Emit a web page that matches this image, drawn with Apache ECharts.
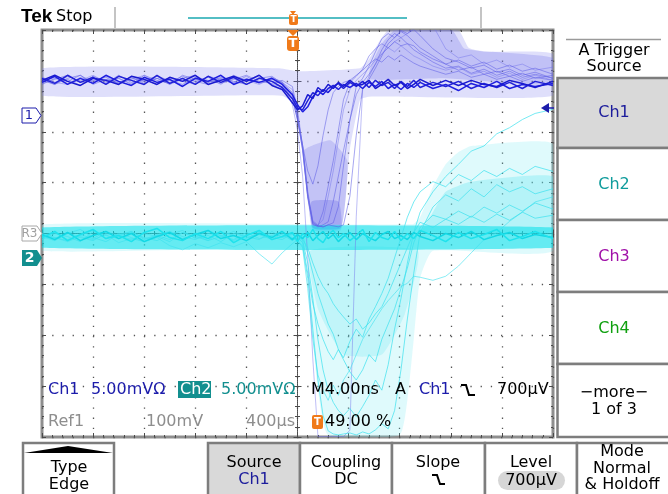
<!DOCTYPE html>
<html lang="en">
<head>
<meta charset="UTF-8">
<title>Tek Stop</title>
<script src="https://cdn.jsdelivr.net/npm/echarts@6/dist/echarts.min.js"></script>
<style>html,body{margin:0;padding:0;background:#fff;}</style>
</head>
<body>
<div id="main" style="width:668px;height:494px;"></div>
<script>
// sample times in ns, trigger at 0 (49 % of record)
const timeNs = [-19.6, -18.6, -17.6, -16.6, -15.6, -14.6, -13.6, -12.6, -11.6, -10.6, -9.6, -8.6, -7.6, -6.6, -5.6, -4.6, -3.6, -2.6, -1.6, -0.8,
  0, 0.4, 0.8, 1.2, 1.6, 2, 2.4, 2.8, 3.2, 3.6, 4,
  4.5, 5, 5.5, 6, 6.5, 7, 7.5, 8, 8.5, 9, 9.5, 10,
  11, 12, 13, 14, 15, 16, 17, 18, 19, 20.4];

// Ch1 traces, mV (5 mV/div)
const ch1Dark1 = [3.2, 3.8, 3.0, 3.6, 3.1, 3.9, 3.3, 2.9, 3.7, 3.2, 3.5, 2.8, 3.6, 3.3, 3.9, 3.0, 3.5, 3.2, 3.6, 3.0,
  2.0, 1.0, 0.3, 0.8, 1.8, 2.4, 2.0, 2.6, 2.9, 2.5, 3.0,
  2.7, 3.1, 2.6, 3.2, 2.8, 3.3, 2.6, 3.0, 2.5, 3.1, 2.7, 3.2,
  2.6, 3.0, 2.4, 3.1, 2.7, 3.3, 2.6, 3.0, 2.8, 3.1];
const ch1Dark2 = [3.6, 3.1, 3.9, 3.2, 3.7, 3.0, 3.8, 3.4, 3.0, 3.9, 3.1, 3.6, 3.0, 3.8, 3.2, 3.7, 3.0, 3.6, 3.3, 2.7,
  1.6, 0.7, 0.5, 1.4, 2.2, 1.9, 2.5, 2.2, 2.8, 3.1, 2.6,
  3.2, 2.8, 3.3, 2.7, 3.4, 2.9, 3.2, 2.6, 3.3, 2.8, 3.4, 2.7,
  3.2, 2.8, 3.3, 2.6, 3.1, 2.7, 3.2, 2.6, 3.3, 2.9];
const ch1Dark3 = [3.4, 3.9, 3.3, 2.9, 3.6, 3.4, 3.0, 3.8, 3.5, 3.0, 3.7, 3.3, 3.9, 3.0, 3.4, 3.8, 3.3, 3.9, 2.9, 2.5,
  1.2, 0.5, 0.9, 2.0, 1.6, 2.7, 2.3, 3.0, 2.6, 3.2, 2.8,
  3.4, 2.9, 3.0, 3.4, 2.6, 3.0, 3.5, 2.9, 3.2, 2.6, 3.0, 3.5,
  2.9, 3.4, 2.9, 3.4, 3.0, 2.8, 3.4, 3.1, 2.7, 3.3];
const ch1Light1 = [3.5, 3.0, 3.8, 3.3, 3.6, 3.1, 3.9, 3.2, 3.5, 3.0, 3.7, 3.4, 3.1, 3.8, 3.2, 3.6, 3.0, 3.7, 3.3, 3.1,
  1.5, -0.5, -3.5, -8.0, -10.8, -10.9, -9.5, -7.0, -4.5, -1.5, 1.5,
  3.2, 3.8, 4.5, 5.8, 6.5, 7.0, 6.6, 7.2, 6.8, 7.0, 6.4, 6.0,
  5.2, 4.6, 4.8, 4.1, 4.5, 3.9, 4.3, 3.7, 4.0, 3.6];
const ch1Light2 = [3.0, 3.6, 3.3, 3.9, 3.0, 3.5, 3.2, 3.7, 3.1, 3.6, 3.2, 3.8, 3.3, 3.0, 3.6, 3.2, 3.8, 3.1, 3.5, 3.2,
  2.2, 0.0, -3.0, -7.5, -10.5, -10.9, -11.0, -10.8, -10.6, -9.0, -5.0,
  -0.5, 2.8, 3.6, 4.8, 6.2, 7.5, 8.0, 7.6, 8.2, 7.8, 7.2, 6.6,
  5.8, 5.0, 4.4, 4.7, 4.0, 4.3, 3.8, 4.1, 3.6, 3.9];
const ch1Light3 = [3.7, 3.2, 3.5, 2.9, 3.8, 3.3, 3.6, 3.0, 3.9, 3.4, 3.1, 3.6, 3.9, 3.2, 3.5, 3.1, 3.4, 3.9, 3.0, 2.8,
  1.8, -0.5, -3.0, -5.5, -6.8, -5.0, -2.0, 0.5, 2.2, 2.8, 3.2,
  3.4, 3.9, 4.4, 5.0, 5.5, 5.2, 5.8, 5.4, 5.9, 5.5, 5.1, 4.8,
  4.4, 4.0, 4.3, 3.7, 4.0, 3.5, 3.8, 3.3, 3.7, 3.4];
const ch1Light4 = [3.3, 3.7, 3.1, 3.4, 3.9, 3.2, 3.6, 3.1, 3.4, 3.8, 3.0, 3.5, 3.3, 3.7, 3.0, 3.9, 3.4, 3.0, 3.6, 3.3,
  1.0, -1.5, -6.0, -14.0, -24.0, -31.6, -31.6, -31.6, -31.6, -31.6, -31.6,
  -31.0, -10.0, 2.5, 3.8, 5.0, 6.0, 6.6, 6.2, 6.8, 6.3, 5.8, 5.5,
  4.8, 4.4, 4.7, 4.0, 4.3, 3.7, 4.1, 3.5, 3.9, 3.4];
const ch1Light5 = [3.1, 3.5, 3.9, 3.2, 3.4, 3.7, 3.0, 3.6, 3.3, 3.8, 3.4, 3.0, 3.7, 3.4, 3.1, 3.5, 3.9, 3.3, 3.1, 3.4,
  2.8, 0.5, -3.0, -7.8, -10.6, -10.9, -11.0, -10.8, -10.9, -11.0, -10.8,
  -8.0, -2.0, 2.6, 3.5, 4.6, 5.8, 7.0, 7.6, 8.3, 8.0, 8.4, 7.8,
  6.5, 5.6, 5.2, 4.6, 4.9, 4.2, 4.5, 3.9, 4.2, 3.6];
const ch1Light6 = [3.6, 3.2, 3.0, 3.7, 3.3, 3.8, 3.1, 3.5, 3.9, 3.2, 3.6, 3.3, 3.0, 3.8, 3.5, 3.1, 3.6, 3.2, 3.7, 3.2,
  2.5, 0.0, -3.2, -8.0, -10.4, -10.8, -10.3, -8.0, -5.5, -2.5, 0.5,
  2.5, 3.4, 4.0, 4.6, 5.4, 6.0, 6.6, 7.2, 7.6, 8.0, 8.6, 9.0,
  8.8, 6.5, 5.6, 5.9, 5.0, 5.4, 4.7, 5.0, 4.4, 4.7];
const ch1Light7 = [3.4, 3.0, 3.6, 3.9, 3.2, 3.5, 3.1, 3.8, 3.3, 3.6, 3.0, 3.9, 3.5, 3.2, 3.7, 3.3, 3.0, 3.6, 3.8, 3.1,
  2.0, -0.3, -3.4, -8.2, -10.7, -11.0, -10.8, -10.5, -8.5, -6.0, -3.5,
  -0.5, 2.0, 3.2, 4.0, 5.0, 6.4, 7.4, 8.0, 7.6, 7.0, 6.8, 6.2,
  5.5, 5.0, 5.4, 4.8, 5.2, 4.5, 4.9, 4.3, 4.6, 4.0];

// Ch2 traces, mV (5 mV/div)
const ch2Base1 = [2.3, 1.8, 2.5, 1.7, 2.2, 2.6, 1.9, 2.4, 1.6, 2.1, 2.5, 1.8, 2.3, 2.7, 1.9, 2.2, 1.7, 2.4, 2.0, 2.6,
  1.8, 2.3, 1.9, 2.5, 1.7, 2.2, 2.6, 1.9, 2.3, 1.6, 2.1,
  2.5, 1.8, 2.4, 2.0, 1.7, 2.3, 2.6, 1.9, 2.2, 1.8, 2.5, 2.1,
  1.7, 2.4, 2.0, 2.6, 1.8, 2.2, 2.5, 1.9, 2.3, 2.0];
const ch2Base2 = [2.0, 2.6, 1.7, 2.3, 2.8, 1.9, 2.2, 1.6, 2.5, 2.9, 2.0, 1.7, 2.4, 1.9, 2.6, 1.5, 2.2, 2.7, 1.8, 2.1,
  2.5, 1.6, 2.4, 2.0, 2.8, 1.9, 1.5, 2.3, 2.7, 2.0, 2.4,
  1.7, 2.2, 2.8, 1.6, 2.5, 2.0, 1.8, 2.6, 1.7, 2.4, 1.9, 2.7,
  2.2, 1.6, 2.5, 1.9, 2.3, 2.8, 1.7, 2.1, 2.6, 1.9];
const ch2Dip1 = [2.2, 1.9, 2.5, 2.0, 1.7, 2.4, 2.1, 2.6, 1.8, 2.2, 2.5, 1.9, 2.3, 1.7, 2.1, 2.6, 2.0, 2.3, 1.8, 2.4,
  2.0, 1.6, 1.2, -2.0, -7.0, -12.0, -15.5, -17.0, -17.3, -17.4, -17.3,
  -17.2, -17.4, -17.1, -17.3, -16.9, -16.3, -16.8, -15.0, -11.0, -6.0, -1.5, 2.5,
  5.0, 6.2, 5.6, 6.8, 6.0, 7.2, 6.5, 7.0, 6.3, 6.8];
const ch2Dip2 = [1.8, 2.4, 2.1, 1.6, 2.6, 2.2, 1.9, 2.5, 2.0, 1.7, 2.3, 2.7, 1.9, 2.2, 1.6, 2.4, 2.1, 1.8, 2.6, 2.0,
  2.3, 1.9, 2.2, 0.5, -1.5, -3.5, -5.0, -6.5, -7.5, -9.0, -10.0,
  -11.2, -12.0, -11.0, -9.5, -10.2, -8.0, -6.5, -5.0, -3.0, -1.0, 1.5, 3.0,
  4.2, 3.8, 4.6, 4.0, 5.0, 4.4, 5.2, 4.6, 5.4, 4.8];
const ch2Dip3 = [2.4, 2.0, 1.7, 2.3, 1.9, 2.6, 2.2, 1.8, 2.4, 2.1, 1.6, 2.5, 2.0, 2.7, 2.2, 1.8, 2.5, 1.9, 2.2, 2.6,
  1.9, 2.2, 1.8, 1.0, -0.5, -1.8, -2.8, -3.5, -4.5, -5.2, -5.8,
  -6.5, -6.0, -7.0, -6.4, -5.5, -4.8, -3.5, -2.0, -0.5, 1.0, 2.5, 3.5,
  3.0, 3.8, 3.3, 4.1, 3.5, 4.3, 3.7, 4.5, 3.9, 4.2];
const ch2Dip4 = [2.0, 2.5, 1.8, 2.2, 2.7, 1.9, 2.4, 2.0, 1.6, 2.3, 2.6, 2.1, 1.8, 2.4, 2.2, 1.7, 2.3, 2.6, 2.0, 1.8,
  2.4, 2.1, 1.7, -0.5, -4.0, -8.0, -11.0, -13.0, -14.2, -15.0, -15.5,
  -14.8, -15.6, -14.6, -13.5, -12.0, -13.0, -10.5, -7.0, -4.0, -0.5, 2.5, 4.5,
  6.5, 8.0, 9.2, 10.5, 11.0, 12.2, 12.8, 13.6, 14.2, 14.6];
const ch2Dip5 = [2.1, 1.7, 2.4, 2.8, 2.0, 1.6, 2.3, 2.6, 1.9, 2.2, 1.8, 2.5, 2.1, 1.7, 2.6, 2.2, 1.9, 2.5, 2.1, 2.3,
  1.7, 2.0, 1.5, -1.5, -4.5, -6.5, -8.0, -9.2, -10.0, -9.0, -9.8,
  -8.2, -7.0, -7.8, -6.0, -4.8, -3.5, -2.0, 0.0, 2.0, 4.0, 5.5, 6.5,
  7.5, 7.0, 8.2, 7.6, 8.6, 8.0, 8.8, 8.2, 9.0, 8.5];
const ch2Dip6 = [2.2, 2.0, 1.6, 2.1, 1.8, 2.3, 1.5, 1.9, 1.6, 2.0, 1.2, 0.8, 1.4, 1.0, 1.5, 1.1, 1.6, 0.4, -0.6, 0.5,
  1.4, 1.8, 1.0, -3.0, -8.0, -11.5, -13.0, -14.0, -12.5, -13.5, -12.0,
  -11.0, -9.5, -8.0, -7.0, -6.0, -5.0, -4.2, -3.5, -2.8, -2.5, -1.8, -1.9,
  -2.2, -1.8, -0.8, 0.5, 1.8, 2.5, 3.6, 4.5, 5.5, 6.0];

// persistence clouds, [ns, mV] outlines
const ch1Cloud = [[-19.6, 4.6], [-1.0, 4.6], [0.4, 4.3], [5.3, 4.6], [6.0, 5.5], [6.7, 7.0], [7.5, 8.3], [13, 8.3], [13.8, 6.6], [15, 6.2], [20.4, 6.0],
  [20.4, 1.9], [6, 1.8], [5.3, 1.5], [4.5, -3.4], [3.8, -11.3], [1.6, -11.3], [1.2, -8.0], [0.8, -2.5], [0.3, 0.8], [-0.8, 1.9], [-19.6, 1.9]];
const ch1DipCore = [[0.9, -3.5], [3.0, -2.5], [4.3, -4.5], [3.8, -11.1], [1.6, -11.1], [1.2, -8.0]];
const ch1DipBottom = [[1.5, -8.5], [3.6, -8.5], [3.8, -11.1], [1.6, -11.1]];
const ch1OverCore = [[6.2, 5.0], [7.0, 7.0], [8.0, 8.3], [12.5, 8.3], [13.5, 6.5], [20.4, 5.6], [20.4, 3.0], [12, 3.6], [6.0, 3.5]];
const ch2Cloud = [[-19.6, 3.3], [9.4, 3.3], [10, 4.0], [11, 7.0], [12, 9.2], [13, 10.4], [14, 11.0], [20.4, 11.2],
  [20.4, 0.7], [11, 0.7], [10, -2.0], [9.5, -8.0], [9.0, -14.0], [8.4, -17.4], [2.8, -17.4], [2.0, -13.0], [1.3, -4.0], [1.0, 0.7], [-19.6, 0.7]];
const ch2DipCore = [[1.4, 0.7], [9.8, 0.7], [8.8, -5.5], [7.0, -9.5], [4.0, -9.5], [2.0, -5.0]];
const ch2OverCore = [[10.2, 2.6], [11, 4.5], [12, 6.5], [14, 7.5], [20.4, 8.0], [20.4, 2.6]];
const ch2Band = [[-19.6, 3.0], [20.4, 3.0], [20.4, 1.0], [-19.6, 1.0]];

const FONT = '"DejaVu Sans", sans-serif';
const myChart = echarts.init(document.getElementById('main'));

function trace(vals, yIdx, color, width) {
  return {
    type: 'line', xAxisIndex: 4, yAxisIndex: yIdx, silent: true, clip: true,
    showSymbol: false, symbol: 'none',
    data: timeNs.map((t, i) => [t, vals[i]]),
    lineStyle: { color: color, width: width }
  };
}

function cloud(outline, yIdx, color) {
  return {
    type: 'custom', xAxisIndex: 4, yAxisIndex: yIdx, silent: true, clip: true,
    data: outline,
    renderItem: function (params, api) {
      if (params.dataIndex !== 0) return null;
      return {
        type: 'polygon',
        shape: { points: outline.map(p => api.coord(p)), smooth: 0.15 },
        style: { fill: color }
      };
    }
  };
}

function label(x, y, text, fill, size, align, weight, family) {
  return {
    type: 'text', x: x, y: y, z: 100,
    style: {
      text: text, fill: fill,
      font: (weight || 'normal') + ' ' + size + 'px ' + (family || FONT),
      align: align || 'left', textAlign: align || 'left',
      verticalAlign: 'middle', textVerticalAlign: 'middle'
    }
  };
}
function box(x, y, w, h, fill, stroke, lw, r) {
  return { type: 'rect', z: 90, shape: { x: x, y: y, width: w, height: h, r: r || 0 }, style: { fill: fill, stroke: stroke || null, lineWidth: lw || 0 } };
}
function poly(points, fill, stroke, lw) {
  return { type: 'polygon', z: 95, shape: { points: points }, style: { fill: fill, stroke: stroke || null, lineWidth: lw || 0 } };
}
function pline(points, stroke, lw) {
  return { type: 'polyline', z: 95, shape: { points: points }, style: { stroke: stroke, lineWidth: lw, fill: null } };
}

const GRID = '#4a4a4a';
const frameX = (pos) => ({
  type: 'value', min: -5, max: 5, interval: 1, position: pos,
  axisLabel: { show: false }, splitLine: { show: false },
  axisLine: { show: false, onZero: false },
  axisTick: { inside: true, length: 4, lineStyle: { color: GRID } },
  minorTick: { show: true, splitNumber: 5, length: 2, lineStyle: { color: GRID } }
});
const frameY = (pos) => ({
  type: 'value', min: -4, max: 4, interval: 1, position: pos,
  axisLabel: { show: false }, splitLine: { show: false },
  axisLine: { show: false, onZero: false },
  axisTick: { inside: true, length: 4, lineStyle: { color: GRID } },
  minorTick: { show: true, splitNumber: 5, length: 2, lineStyle: { color: GRID } }
});
const centreX = (inside, split) => ({
  type: 'value', min: -5, max: 5, interval: 1, position: 'bottom',
  axisLabel: { show: false },
  axisLine: { show: true, onZero: true, onZeroAxisIndex: 0, lineStyle: { color: GRID, width: 1, type: [1, 1] } },
  axisTick: { inside: inside, length: 4, lineStyle: { color: GRID } },
  minorTick: { show: true, splitNumber: 5, length: 2.5, lineStyle: { color: GRID } },
  splitLine: { show: split, lineStyle: { color: '#555', width: 1.3, type: [1.3, 8.9] } }
});
const centreY = (inside, split) => ({
  type: 'value', min: -4, max: 4, interval: 1, position: 'left',
  axisLabel: { show: false },
  axisLine: { show: true, onZero: true, onZeroAxisIndex: 0, lineStyle: { color: GRID, width: 1, type: [1, 1] } },
  axisTick: { inside: inside, length: 4, lineStyle: { color: GRID } },
  minorTick: { show: true, splitNumber: 5, length: 2.5, lineStyle: { color: GRID } },
  splitLine: { show: split, lineStyle: { color: '#555', width: 1.3, type: [1.3, 8.9] } }
});

const CH1 = '#1c1cab';
const CH2 = '#128f8f';
const GREY = '#8e8e8e';
const ORANGE = '#f07a1a';
const BTN = '#7d7d7d';

const ui = [
  // status bar
  label(21, 17, 'Tek', '#000', 19, 'left', 'bold', '"Liberation Sans", sans-serif'),
  label(56, 17, 'Stop', '#000', 16),
  { type: 'line', z: 90, shape: { x1: 115, y1: 7, x2: 115, y2: 28 }, style: { stroke: '#b0b0b0', lineWidth: 1.5 } },
  { type: 'line', z: 90, shape: { x1: 481, y1: 7, x2: 481, y2: 28 }, style: { stroke: '#b0b0b0', lineWidth: 1.5 } },
  { type: 'line', z: 90, shape: { x1: 188, y1: 18, x2: 407, y2: 18 }, style: { stroke: '#1aa8b0', lineWidth: 1.5 } },
  poly([[290, 11], [296, 11], [293, 15]], ORANGE),
  box(289, 14, 9, 11, ORANGE, null, 0, 2),
  label(293.5, 20, 'T', '#fff', 9, 'center', 'bold'),
  poly([[287, 30], [299, 30], [293, 36]], ORANGE),
  box(287, 36, 12, 15, ORANGE, null, 0, 3),
  label(293, 44, 'T', '#fff', 13, 'center', 'bold'),
  // channel ground markers
  poly([[22, 108], [36, 108], [41, 115.5], [36, 123], [22, 123]], '#fff', CH1, 1),
  label(29, 116, '1', CH1, 13, 'center'),
  poly([[22, 226], [37, 226], [42, 233.5], [37, 241], [22, 241]], '#fff', '#a8a8a8', 1),
  label(29.5, 234, 'R3', '#a0a0a0', 12, 'center'),
  poly([[22, 250], [37, 250], [42, 258], [37, 266], [22, 266]], CH2),
  label(29.5, 258.5, '2', '#fff', 14, 'center', 'bold'),
  // trigger level arrow
  poly([[541, 108], [549, 103], [549, 113]], CH1),
  { type: 'line', z: 95, shape: { x1: 548, y1: 108, x2: 554, y2: 108 }, style: { stroke: CH1, lineWidth: 1.5 } },
  // readout, row 1
  label(48, 390, 'Ch1', CH1, 16),
  label(91, 390, '5.00mVΩ', CH1, 16),
  box(178, 381, 33, 17, CH2),
  label(180, 390, 'Ch2', '#fff', 16),
  label(221, 390, '5.00mVΩ', CH2, 16),
  label(311, 390, 'M4.00ns', '#000', 16),
  label(395, 390, 'A', '#000', 16),
  label(419, 390, 'Ch1', CH1, 16),
  pline([[461, 385], [466, 385], [469, 395], [475, 395]], '#000', 2),
  label(497, 390, '700µV', '#000', 16),
  // readout, row 2
  label(48, 422, 'Ref1', GREY, 16),
  label(146, 422, '100mV', GREY, 16),
  label(246, 422, '400µs', GREY, 16),
  box(312, 415, 11, 14, ORANGE, null, 0, 2),
  label(317.5, 422.5, 'T', '#fff', 10, 'center', 'bold'),
  label(325, 422, '49.00 %', '#000', 16),
  // side menu
  { type: 'line', z: 90, shape: { x1: 566, y1: 39.5, x2: 661, y2: 39.5 }, style: { stroke: '#9a9a9a', lineWidth: 1.5 } },
  label(614, 51, 'A Trigger', '#000', 16, 'center'),
  label(614, 67, 'Source', '#000', 16, 'center'),
  box(557.5, 78, 115, 70, '#d9d9d9', BTN, 2.5),
  box(557.5, 148, 115, 72, '#fff', BTN, 2.5),
  box(557.5, 220, 115, 72, '#fff', BTN, 2.5),
  box(557.5, 292, 115, 72, '#fff', BTN, 2.5),
  box(557.5, 364, 115, 73, '#fff', BTN, 2.5),
  label(614, 113, 'Ch1', '#1c1c9c', 16, 'center'),
  label(614, 185, 'Ch2', '#109c9c', 16, 'center'),
  label(614, 257, 'Ch3', '#a010a8', 16, 'center'),
  label(614, 329, 'Ch4', '#10a010', 16, 'center'),
  label(614, 393, '−more−', '#000', 16, 'center'),
  label(614, 410, '1 of 3', '#000', 16, 'center'),
  // bottom menu
  box(23, 443, 91, 60, '#fff', BTN, 2.5),
  poly([[24, 453], [113, 453], [68, 446]], '#000'),
  label(69, 468, 'Type', '#000', 16, 'center'),
  label(69, 485, 'Edge', '#000', 16, 'center'),
  box(208, 443, 92, 60, '#d9d9d9', BTN, 2.5),
  label(254, 463, 'Source', '#000', 16, 'center'),
  label(254, 480, 'Ch1', '#1c1c9c', 16, 'center'),
  box(300, 443, 92, 60, '#fff', BTN, 2.5),
  label(346, 463, 'Coupling', '#000', 16, 'center'),
  label(346, 480, 'DC', '#000', 16, 'center'),
  box(392, 443, 93, 60, '#fff', BTN, 2.5),
  label(438, 463, 'Slope', '#000', 16, 'center'),
  pline([[432, 475], [437, 475], [440, 484], [445, 484]], '#000', 2),
  box(485, 443, 92, 60, '#fff', BTN, 2.5),
  label(531, 463, 'Level', '#000', 16, 'center'),
  box(498, 471, 67, 19, '#d6d6d6', null, 0, 9.5),
  label(531, 480.5, '700µV', '#000', 16, 'center'),
  box(577, 443, 95, 60, '#fff', BTN, 2.5),
  label(622, 452, 'Mode', '#000', 16, 'center'),
  label(622, 469, 'Normal', '#000', 16, 'center'),
  label(622, 485, '& Holdoff', '#000', 16, 'center')
];

const option = {
  animation: false,
  backgroundColor: '#fff',
  grid: { left: 42, top: 30, width: 511, height: 407, show: true, backgroundColor: '#fff', borderColor: '#8e8e8e', borderWidth: 3 },
  xAxis: [
    centreX(true, true),
    centreX(false, false),
    frameX('top'),
    frameX('bottom'),
    { type: 'value', min: -19.6, max: 20.4, show: false }
  ],
  yAxis: [
    centreY(true, true),
    centreY(false, false),
    frameY('left'),
    frameY('right'),
    { type: 'value', min: -31.65, max: 8.35, show: false },
    { type: 'value', min: -17.6, max: 22.4, show: false }
  ],
  series: [
    cloud(ch1Cloud, 4, 'rgba(130,130,240,0.26)'),
    cloud(ch1DipCore, 4, 'rgba(110,110,232,0.25)'),
    cloud(ch1DipBottom, 4, 'rgba(100,100,228,0.3)'),
    cloud(ch1OverCore, 4, 'rgba(115,115,235,0.28)'),
    trace(ch1Light1, 4, 'rgba(95,95,230,0.55)', 1),
    trace(ch1Light2, 4, 'rgba(95,95,230,0.55)', 1),
    trace(ch1Light3, 4, 'rgba(95,95,230,0.55)', 1),
    trace(ch1Light4, 4, 'rgba(110,110,235,0.45)', 1),
    trace(ch1Light5, 4, 'rgba(95,95,230,0.55)', 1),
    trace(ch1Light6, 4, 'rgba(110,110,235,0.45)', 1),
    trace(ch1Light7, 4, 'rgba(95,95,230,0.55)', 1),
    trace(ch1Dark1, 4, '#1e1ee0', 1.5),
    trace(ch1Dark2, 4, '#2222d8', 1.5),
    trace(ch1Dark3, 4, '#1a1ad0', 1.5),
    cloud(ch2Cloud, 5, 'rgba(95,232,242,0.2)'),
    cloud(ch2DipCore, 5, 'rgba(85,228,240,0.22)'),
    cloud(ch2OverCore, 5, 'rgba(85,228,240,0.3)'),
    trace(ch2Dip1, 5, 'rgba(60,225,238,0.7)', 1),
    trace(ch2Dip2, 5, 'rgba(60,225,238,0.7)', 1),
    trace(ch2Dip3, 5, 'rgba(60,225,238,0.7)', 1),
    trace(ch2Dip4, 5, 'rgba(60,225,238,0.7)', 1),
    trace(ch2Dip5, 5, 'rgba(60,225,238,0.7)', 1),
    trace(ch2Dip6, 5, 'rgba(60,225,238,0.6)', 1),
    cloud(ch2Band, 5, 'rgba(0,222,234,0.55)'),
    trace(ch2Base1, 5, '#12d8e4', 1.5),
    trace(ch2Base2, 5, '#1ee2ec', 1.5)
  ],
  graphic: { elements: ui }
};

myChart.setOption(option);
</script>
</body>
</html>
